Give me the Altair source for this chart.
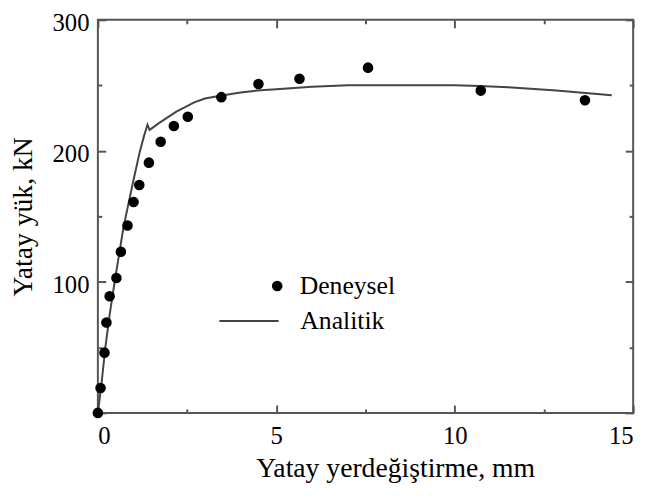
import altair as alt
import pandas as pd

# Deneysel (experimental) points: displacement (mm), load (kN)
exp_disp = [0, 0.075, 0.185, 0.24, 0.33, 0.52, 0.645, 0.83, 1.0, 1.16, 1.43, 1.76,
            2.13, 2.52, 3.46, 4.5, 5.65, 7.57, 10.73, 13.65]
exp_load = [0, 19, 46, 69, 89, 103, 123, 143, 161, 174, 191, 207,
            219, 226, 241, 251, 255, 263.5, 246, 238.6]

# Analitik (analytical) curve
ana_disp = [0, 0.1, 0.21, 0.33, 0.47, 0.6, 0.72, 0.86, 1.0, 1.18, 1.3, 1.39, 1.45,
            1.5, 1.7, 1.87, 2.2, 2.7, 3.0, 3.43, 4.0, 4.46, 5.0, 6.0, 7.0, 8.7,
            10.0, 10.7, 11.5, 12.85, 13.5, 14.4]
ana_load = [0, 22, 50, 75, 100, 122, 142, 160, 178, 200, 212, 220, 216,
            217, 221, 224, 230, 237, 240, 242, 244.5, 246, 247, 249, 250, 250,
            250, 249.5, 248.5, 246, 244.5, 242.5]

x_major = [0, 5, 10, 15]
x_minor = [2.5, 7.5, 12.5]
y_labels = [100, 200, 300]
y_major = [0, 100, 200, 300]
y_minor = [50, 150, 250]

W, H = 542, 398
TOP = 9
FONT = "Liberation Serif"
FRAME = "#555555"

pts = pd.DataFrame({"d": exp_disp, "f": exp_load, "series": "Deneysel"})
line = pd.DataFrame({"d": ana_disp, "f": ana_load, "series": "Analitik"})

xs = alt.Scale(domain=[0, 15], nice=False, zero=False)
ys = alt.Scale(domain=[0, 300], nice=False, zero=False)


def tick_axis(orient, offset, values, size):
    return alt.Axis(orient=orient, offset=offset, values=values, labels=False,
                    domain=False, grid=False, ticks=True, tickSize=size,
                    tickWidth=2, tickColor=FRAME, title=None)


points = alt.Chart(pts).mark_point(filled=True, size=115, opacity=1).encode(
    x=alt.X("d:Q", scale=xs, axis=alt.Axis(
        values=x_major, ticks=False, tickSize=0, domain=False, grid=False,
        labelPadding=11, labelFont=FONT, labelFontSize=25, labelColor="black",
        title="Yatay yerdeğiştirme, mm", titleFont=FONT, titleFontSize=28,
        titleFontWeight="normal", titleColor="black", titleX=301, titleY=64,
        titleBaseline="alphabetic", titleAnchor="middle", titleAlign="center")),
    y=alt.Y("f:Q", scale=ys, axis=alt.Axis(
        values=y_labels, ticks=False, tickSize=0, domain=False, grid=False,
        labelPadding=9, labelOffset=3, labelFont=FONT, labelFontSize=25,
        labelColor="black",
        title="Yatay yük, kN", titleFont=FONT, titleFontSize=28,
        titleFontWeight="normal", titleColor="black", titleX=-75, titleY=H / 2,
        titleBaseline="middle", titleAlign="center", titleAngle=270)),
    color=alt.Color("series:N", scale=alt.Scale(domain=["Deneysel"], range=["black"]),
                    legend=alt.Legend(orient="none", legendX=168.6, legendY=256.5,
                                      title=None, padding=0, symbolType="circle",
                                      symbolSize=115, symbolStrokeWidth=0,
                                      labelFont=FONT, labelFontSize=26,
                                      labelColor="black", labelOffset=9.7)),
)

curve = alt.Chart(line).mark_line(strokeWidth=2).encode(
    x=alt.X("d:Q", scale=xs, axis=tick_axis("top", -H, x_major, 8)),
    y=alt.Y("f:Q", scale=ys, axis=tick_axis("right", -W, y_major, 8)),
    color=alt.Color("series:N", scale=alt.Scale(domain=["Analitik"], range=["#444444"]),
                    legend=alt.Legend(orient="none", legendX=122, legendY=274,
                                      title=None, padding=0, symbolType="stroke",
                                      symbolSize=3600, symbolStrokeWidth=2,
                                      labelFont=FONT, labelFontSize=26,
                                      labelColor="black", labelOffset=21)),
)

hid1 = alt.Chart(line).mark_point(opacity=0).encode(
    x=alt.X("d:Q", scale=xs, axis=tick_axis("top", -H, x_minor, 4)),
    y=alt.Y("f:Q", scale=ys, axis=tick_axis("right", -W, y_minor, 4)),
)
hid2 = alt.Chart(line).mark_point(opacity=0).encode(
    x=alt.X("d:Q", scale=xs, axis=tick_axis("bottom", -H, x_major, 8)),
    y=alt.Y("f:Q", scale=ys, axis=tick_axis("left", -W, y_major, 8)),
)
hid3 = alt.Chart(line).mark_point(opacity=0).encode(
    x=alt.X("d:Q", scale=xs, axis=tick_axis("bottom", -H, x_minor, 4)),
    y=alt.Y("f:Q", scale=ys, axis=tick_axis("left", -W, y_minor, 4)),
)

chart = alt.layer(curve, points, hid1, hid2, hid3).resolve_axis(
    x="independent", y="independent"
).resolve_scale(color="independent").properties(
    width=W, height=H,
    autosize=alt.AutoSizeParams(type="none"),
    padding={"left": 91, "top": TOP, "right": 13, "bottom": 70},
    background="white",
).configure_view(stroke=FRAME, strokeWidth=2)

chart.save("out.html", embed_options={"renderer": "svg", "actions": False})
